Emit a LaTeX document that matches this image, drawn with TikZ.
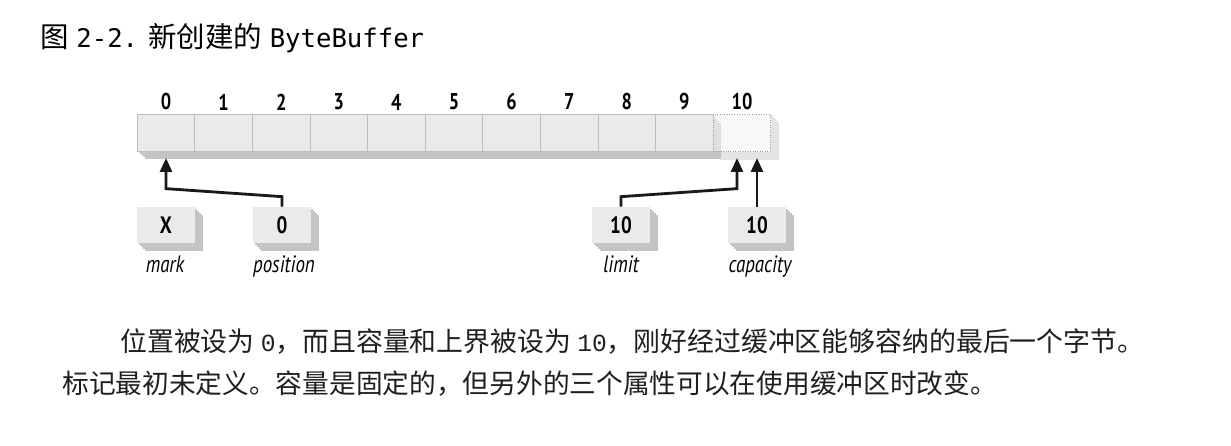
\documentclass[tikz,border=0pt]{standalone}
\usepackage{fontspec}
\setmainfont{PT Sans}
\newfontfamily\cjk{Noto Sans CJK SC}
\newfontfamily\mono{DejaVu Sans Mono}
\newfontfamily\bodymono{Liberation Mono}
\newfontfamily\narrow[FakeStretch=0.8]{PT Sans}
\usetikzlibrary{arrows.meta, shadows, backgrounds}
\definecolor{face}{HTML}{EAEAEA}
\definecolor{shade}{HTML}{C4C4C4}
\definecolor{edge}{HTML}{BEBEBE}

\begin{document}
\begin{tikzpicture}[x=0.02cm, y=-0.02cm,
    extrude/.style={copy shadow={shadow xshift=0.04cm, shadow yshift=-0.04cm, fill=shade, draw=none},
                    copy shadow={shadow xshift=0.08cm, shadow yshift=-0.08cm, fill=shade, draw=none},
                    copy shadow={shadow xshift=0.12cm, shadow yshift=-0.12cm, fill=shade, draw=none},
                    copy shadow={shadow xshift=0.16cm, shadow yshift=-0.16cm, fill=shade, draw=none}},
    cell/.style={extrude, fill=face, draw=edge, thin, minimum width=1.152cm, minimum height=0.74cm, inner sep=0pt},
    ghost/.style={fill=face!55, fill opacity=0.6, draw=gray!80, densely dotted, thin, minimum width=1.152cm, minimum height=0.74cm, inner sep=0pt},
    idx/.style={font=\narrow\bfseries\fontsize{13}{15}\selectfont},
    box/.style={extrude, fill=face, minimum width=1.16cm, minimum height=0.72cm, inner sep=0pt, font=\narrow\bfseries\fontsize{13.5}{15}\selectfont},
    tag/.style={anchor=base, font=\narrow\itshape\fontsize{13.5}{15}\selectfont},
    link/.style={draw, line width=1.6pt, color=black!90, -{Triangle[length=0.28cm, width=0.24cm]}}
]
    \useasboundingbox (0,0) rectangle (1231,446);
    % caption
    \node[anchor=west, inner sep=0pt, font=\fontsize{16.2}{19}\selectfont] (title) at (40,38)
        {{\cjk 图} {\mono\fontsize{14.6}{19}\selectfont 2-2.} {\cjk 新创建的} {\mono\fontsize{14.6}{19}\selectfont ByteBuffer}};
    % buffer cells
    \node[cell] (c0) at (166,133) {};
    \node[cell] (c1) at (223.6,133) {};
    \node[cell] (c2) at (281.2,133) {};
    \node[cell] (c3) at (338.8,133) {};
    \node[cell] (c4) at (396.4,133) {};
    \node[cell] (c5) at (454,133) {};
    \node[cell] (c6) at (511.6,133) {};
    \node[cell] (c7) at (569.2,133) {};
    \node[cell] (c8) at (626.8,133) {};
    \node[cell] (c9) at (684.4,133) {};
    \node[ghost] (c10) at (742,133) {};
    \begin{scope}[on background layer]
        \fill[shade!45] (c10.south west) -- ++(8,8) -- ++(58,0) -- ++(0,-37) -- (c10.north east) -- (c10.south east) -- cycle;
    \end{scope}
    \node[idx] at (166,102) {0};
    \node[idx] at (223.6,102) {1};
    \node[idx] at (281.2,102) {2};
    \node[idx] at (338.8,102) {3};
    \node[idx] at (396.4,102) {4};
    \node[idx] at (454,102) {5};
    \node[idx] at (511.6,102) {6};
    \node[idx] at (569.2,102) {7};
    \node[idx] at (626.8,102) {8};
    \node[idx] at (684.4,102) {9};
    \node[idx] at (742,102) {10};
    % attribute boxes
    \node[box] (mk)   at (166,225) {X};
    \node[box] (pos)  at (282,225) {0};
    \node[box] (lim)  at (621,225) {10};
    \node[box] (capa) at (757,225) {10};
    \node[tag] at (165,272) {mark};
    \node[tag] at (284,272) {position};
    \node[tag] at (621,272) {limit};
    \node[tag] at (760,272) {capacity};
    \coordinate (postip) at (166,158);
    \coordinate (limtip) at (737,158);
    \coordinate (captip) at (757,158);
    \draw[link] (pos.north) -- ++(0,-10) -- ++(-116,-8) -- (postip);
    \draw[link] (lim.north) -- ++(0,-10) -- ++(116,-8) -- (limtip);
    \draw[link] (capa.north) -- (captip);
    % text below
    \node[anchor=west, inner sep=0pt, text=black!88, font=\cjk\fontsize{15.3}{18}\selectfont] (line1) at (120,342)
        {位置被设为 {\bodymono\fontsize{14}{18}\selectfont 0}，而且容量和上界被设为 {\bodymono\fontsize{14}{18}\selectfont 10}，刚好经过缓冲区能够容纳的最后一个字节。};
    \node[anchor=west, inner sep=0pt, text=black!88, font=\cjk\fontsize{15.2}{18}\selectfont] (line2) at (62,384)
        {标记最初未定义。容量是固定的，但另外的三个属性可以在使用缓冲区时改变。};
\end{tikzpicture}
\end{document}
